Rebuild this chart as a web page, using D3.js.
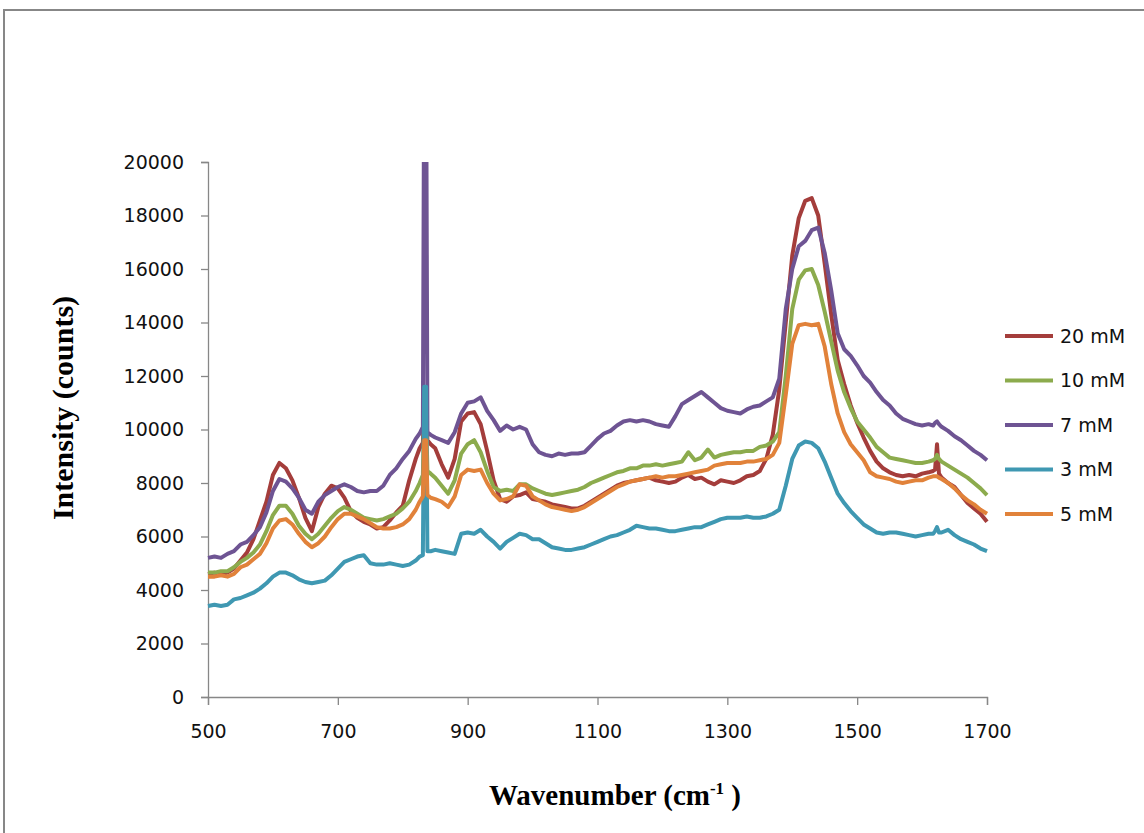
<!DOCTYPE html>
<html>
<head>
<meta charset="utf-8">
<script src="https://cdn.jsdelivr.net/npm/d3@7"></script>
<style>
  html, body { margin: 0; padding: 0; background: #ffffff; }
  svg { display: block; }
</style>
</head>
<body>
<svg id="chart" width="1144" height="833"></svg>
<script>
// Raman shift axis (cm^-1); denser sampling around the narrow bands at ~835 and ~1623
const wavenumbers = [
  500, 510, 520, 530, 540, 550, 560, 570, 580, 590,
  600, 610, 620, 630, 640, 650, 660, 670, 680, 690,
  700, 710, 720, 730, 740, 750, 760, 770, 780, 790,
  800, 810, 820, 826, 831, 833, 836, 838, 843, 850,
  860, 870, 880, 890, 900, 910, 920, 930, 940, 950,
  960, 970, 980, 990, 1000, 1010, 1020, 1030, 1040, 1050,
  1060, 1070, 1080, 1090, 1100, 1110, 1120, 1130, 1140, 1150,
  1160, 1170, 1180, 1190, 1200, 1210, 1220, 1230, 1240, 1250,
  1260, 1270, 1280, 1290, 1300, 1310, 1320, 1330, 1340, 1350,
  1360, 1370, 1380, 1390, 1400, 1410, 1420, 1430, 1440, 1450,
  1460, 1470, 1480, 1490, 1500, 1510, 1520, 1530, 1540, 1550,
  1560, 1570, 1580, 1590, 1600, 1610, 1617, 1620, 1623, 1626,
  1630, 1640, 1650, 1660, 1670, 1680, 1690, 1700
];

// Intensity (counts) for each concentration
const conc20mM = [
  4600, 4650, 4600, 4650, 4800, 5100, 5400, 5900, 6600, 7300,
  8300, 8750, 8550, 8100, 7450, 6700, 6200, 7100, 7600, 7900,
  7800, 7450, 6950, 6700, 6550, 6450, 6300, 6350, 6600, 6900,
  7150, 8100, 8900, 9300, 9500, 11000, 11000, 9600, 9450, 9300,
  8700, 8200, 8900, 10300, 10600, 10650, 10200, 9200, 8100, 7400,
  7300, 7500, 7550, 7650, 7400, 7350, 7300, 7200, 7150, 7100,
  7050, 7050, 7150, 7300, 7450, 7600, 7750, 7900, 8000, 8050,
  8100, 8150, 8200, 8100, 8050, 8000, 8050, 8200, 8300, 8150,
  8200, 8050, 7950, 8100, 8050, 8000, 8100, 8250, 8300, 8450,
  8900, 9800, 11500, 14000, 16500, 17900, 18550, 18650, 18000, 16200,
  14300, 12600, 11700, 10900, 10250, 9700, 9200, 8800, 8550, 8400,
  8300, 8250, 8300, 8250, 8350, 8400, 8450, 8500, 9450, 8350,
  8200, 8000, 7850, 7550, 7250, 7050, 6850, 6550
];

const conc10mM = [
  4650, 4650, 4700, 4700, 4850, 5050, 5200, 5400, 5700, 6200,
  6800, 7150, 7150, 6850, 6400, 6100, 5900, 6100, 6400, 6700,
  6950, 7100, 7000, 6850, 6700, 6650, 6600, 6650, 6750, 6850,
  7050, 7300, 7700, 8000, 8300, 10500, 10500, 8450, 8350, 8200,
  7900, 7600, 8100, 9100, 9450, 9600, 9150, 8450, 7850, 7700,
  7750, 7700, 7950, 7950, 7800, 7700, 7600, 7550, 7600, 7650,
  7700, 7750, 7850, 8000, 8100, 8200, 8300, 8400, 8450, 8550,
  8550, 8650, 8650, 8700, 8650, 8700, 8750, 8800, 9150, 8850,
  8950, 9250, 8950, 9050, 9100, 9150, 9150, 9200, 9200, 9350,
  9400, 9550, 9900, 12000, 14500, 15600, 15950, 16000, 15400, 14400,
  13300, 12200, 11400, 10800, 10300, 10000, 9700, 9350, 9150, 8950,
  8900, 8850, 8800, 8750, 8750, 8800, 8850, 8900, 9050, 8900,
  8800, 8650, 8500, 8350, 8200, 8000, 7800, 7550
];

const conc7mM = [
  5200, 5250, 5200, 5350, 5450, 5700, 5800, 6050, 6350, 6900,
  7700, 8150, 8050, 7800, 7450, 7000, 6850, 7300, 7550, 7700,
  7850, 7950, 7850, 7700, 7650, 7700, 7700, 7900, 8300, 8550,
  8900, 9200, 9650, 9850, 10100, 24000, 24000, 9900, 9800, 9700,
  9600, 9500, 9900, 10600, 11000, 11050, 11200, 10700, 10350, 9950,
  10150, 10000, 10100, 10000, 9450, 9150, 9050, 9000, 9100, 9050,
  9100, 9100, 9150, 9400, 9650, 9850, 9950, 10150, 10300, 10350,
  10300, 10350, 10300, 10200, 10150, 10100, 10500, 10950, 11100, 11250,
  11400, 11200, 11000, 10800, 10700, 10650, 10600, 10750, 10850, 10900,
  11050, 11200, 11900, 14500, 16000, 16850, 17050, 17450, 17550, 16600,
  15200, 13600, 13000, 12750, 12400, 12000, 11750, 11400, 11100, 10900,
  10600, 10400, 10300, 10200, 10150, 10200, 10150, 10250, 10300, 10200,
  10100, 9950, 9750, 9600, 9400, 9200, 9050, 8850
];

const conc3mM = [
  3400, 3450, 3400, 3450, 3650, 3700, 3800, 3900, 4050, 4250,
  4500, 4650, 4650, 4550, 4400, 4300, 4250, 4300, 4350, 4550,
  4800, 5050, 5150, 5250, 5300, 5000, 4950, 4950, 5000, 4950,
  4900, 4950, 5100, 5250, 5300, 11600, 11600, 5450, 5450, 5500,
  5450, 5400, 5350, 6100, 6150, 6100, 6250, 6000, 5800, 5550,
  5800, 5950, 6100, 6050, 5900, 5900, 5750, 5600, 5550, 5500,
  5500, 5550, 5600, 5700, 5800, 5900, 6000, 6050, 6150, 6250,
  6400, 6350, 6300, 6300, 6250, 6200, 6200, 6250, 6300, 6350,
  6350, 6450, 6550, 6650, 6700, 6700, 6700, 6750, 6700, 6700,
  6750, 6850, 7000, 7900, 8900, 9400, 9550, 9500, 9300, 8800,
  8200, 7600, 7250, 6950, 6700, 6450, 6300, 6150, 6100, 6150,
  6150, 6100, 6050, 6000, 6050, 6100, 6100, 6200, 6350, 6150,
  6150, 6250, 6050, 5900, 5800, 5700, 5550, 5450
];

const conc5mM = [
  4500, 4500, 4550, 4500, 4600, 4850, 4950, 5150, 5350, 5750,
  6300, 6600, 6650, 6450, 6100, 5800, 5600, 5750, 6000, 6350,
  6650, 6850, 6850, 6750, 6650, 6500, 6350, 6300, 6300, 6350,
  6450, 6650, 7000, 7300, 7500, 9600, 9600, 7550, 7450, 7400,
  7300, 7100, 7500, 8300, 8500, 8450, 8500, 8000, 7600, 7350,
  7400, 7500, 7950, 7900, 7500, 7350, 7200, 7100, 7050, 7000,
  6950, 7000, 7100, 7250, 7400, 7550, 7700, 7850, 7950, 8050,
  8100, 8150, 8200, 8250, 8200, 8250, 8250, 8300, 8350, 8400,
  8450, 8500, 8650, 8700, 8750, 8750, 8750, 8800, 8800, 8850,
  8900, 9050, 9500, 11300, 13200, 13900, 13950, 13900, 13950, 13100,
  11700, 10600, 9900, 9450, 9150, 8850, 8400, 8250, 8200, 8150,
  8050, 8000, 8050, 8100, 8100, 8200, 8250, 8250, 8250, 8200,
  8150, 8000, 7800, 7550, 7350, 7200, 7000, 6850
];

// Series in drawing / legend order
const seriesLabels = ["20 mM", "10 mM", "7 mM", "3 mM", "5 mM"];
const seriesValues = [conc20mM, conc10mM, conc7mM, conc3mM, conc5mM];

const xTickValues = [500, 700, 900, 1100, 1300, 1500, 1700];
const yTickValues = [0, 2000, 4000, 6000, 8000, 10000, 12000, 14000, 16000, 18000, 20000];

const xTitle = "Wavenumber (cm";
const xTitleSup = "-1";
const yTitle = "Intensity (counts)";

// ---- styling ----
const lineColors = ["#A43D3B", "#8CAB4D", "#6E5493", "#3F98B2", "#E1823A"];
const axisColor = "#878787";
const tickFont = "'DejaVu Sans', sans-serif";
const titleFont = "'Liberation Serif', 'Times New Roman', serif";

const svg = d3.select("#chart");

// outer chart frame (only top and left edges fall inside the page)
svg.append("path")
  .attr("d", "M4,833 V10 H1144")
  .attr("fill", "none")
  .attr("stroke", axisColor)
  .attr("stroke-width", 2);

const plot = { left: 208, right: 987, top: 162, bottom: 697 };

const x = d3.scaleLinear().domain([500, 1700]).range([plot.left, plot.right]);
const y = d3.scaleLinear().domain([0, 20000]).range([plot.bottom, plot.top]);

svg.append("defs").append("clipPath").attr("id", "plotClip")
  .append("rect")
  .attr("x", plot.left - 4).attr("y", plot.top)
  .attr("width", plot.right - plot.left + 8)
  .attr("height", plot.bottom - plot.top + 4);

// y axis
const yAxis = svg.append("g")
  .attr("transform", `translate(${plot.left},0)`)
  .call(d3.axisLeft(y).tickValues(yTickValues).tickSize(7).tickPadding(17).tickFormat(d3.format("d")));

// x axis
const xAxis = svg.append("g")
  .attr("transform", `translate(0,${plot.bottom})`)
  .call(d3.axisBottom(x).tickValues(xTickValues).tickSize(8).tickPadding(20).tickFormat(d3.format("d")));

[yAxis, xAxis].forEach(g => {
  g.select(".domain").attr("stroke", axisColor).attr("stroke-width", 1.3);
  g.selectAll(".tick line").attr("stroke", axisColor).attr("stroke-width", 1.3);
  g.selectAll(".tick text")
    .attr("fill", "#111")
    .style("font-family", tickFont)
    .style("font-size", "19px");
});

// spectra
const line = d3.line()
  .x((d, i) => x(wavenumbers[i]))
  .y(d => y(d));

const lines = svg.append("g").attr("clip-path", "url(#plotClip)");
seriesValues.forEach((vals, k) => {
  lines.append("path")
    .datum(vals)
    .attr("d", line)
    .attr("fill", "none")
    .attr("stroke", lineColors[k])
    .attr("stroke-width", 4)
    .attr("stroke-linejoin", "round")
    .attr("stroke-linecap", "butt");
});

// legend
const legend = svg.append("g").attr("transform", "translate(1005,336)");
seriesLabels.forEach((name, k) => {
  const row = legend.append("g").attr("transform", `translate(0,${k * 44.5})`);
  row.append("line")
    .attr("x1", 0).attr("x2", 48).attr("y1", 0).attr("y2", 0)
    .attr("stroke", lineColors[k]).attr("stroke-width", 4);
  row.append("text")
    .attr("x", 55).attr("y", 0).attr("dy", "0.36em")
    .attr("fill", "#111")
    .style("font-family", tickFont)
    .style("font-size", "19px")
    .text(name);
});

// axis titles
const xt = svg.append("text")
  .attr("x", 615).attr("y", 805)
  .attr("text-anchor", "middle")
  .style("font-family", titleFont)
  .style("font-weight", "bold")
  .style("font-size", "29px")
  .attr("fill", "#000");
xt.append("tspan").text(xTitle);
xt.append("tspan").attr("dy", -11).style("font-size", "17px").text(xTitleSup);
xt.append("tspan").attr("dy", 11).text(" )");

svg.append("text")
  .attr("transform", "translate(73,408) rotate(-90)")
  .attr("text-anchor", "middle")
  .style("font-family", titleFont)
  .style("font-weight", "bold")
  .style("font-size", "30px")
  .attr("fill", "#000")
  .text(yTitle);
</script>
</body>
</html>
